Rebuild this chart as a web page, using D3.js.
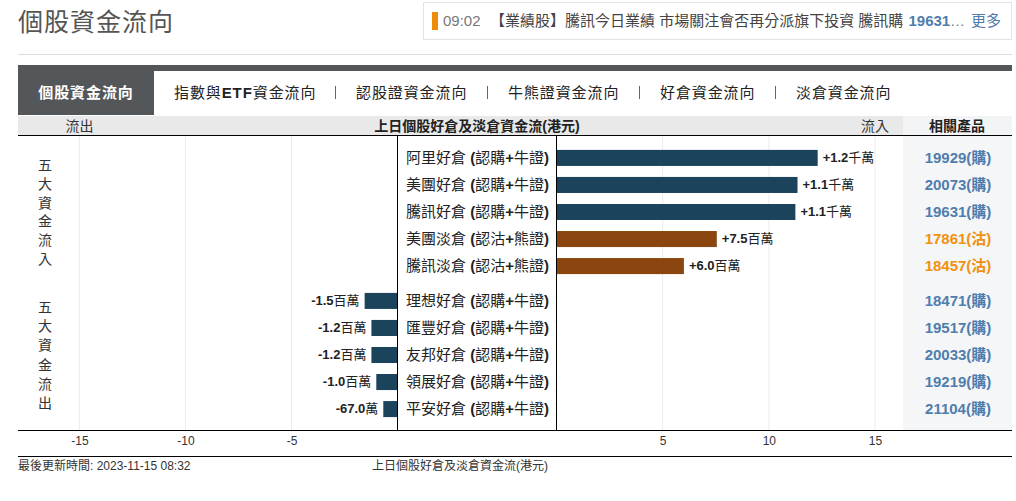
<!DOCTYPE html>
<html lang="zh-Hant">
<head>
  <meta charset="UTF-8">
  <title>個股資金流向</title>
  <script src="https://d3js.org/d3.v7.min.js"></script>
  <style>
    html, body { margin: 0; padding: 0; background: #fff; overflow: hidden; }
    svg { display: block; }
    text { font-family: "Liberation Sans", "Noto Sans CJK TC", sans-serif; }
    .grid line { stroke: #ececec; }
    .tick text { fill: #333; font-size: 12px; }
  </style>
</head>
<body>
  <div id="chart"></div>

  <script>
    // values in millions of HKD
    const inNames = ["阿里好倉 (認購+牛證)", "美團好倉 (認購+牛證)", "騰訊好倉 (認購+牛證)", "美團淡倉 (認沽+熊證)", "騰訊淡倉 (認沽+熊證)"];
    const inValues = [12.3, 11.35, 11.25, 7.55, 6.0];
    const inLabels = ["+1.2千萬", "+1.1千萬", "+1.1千萬", "+7.5百萬", "+6.0百萬"];
    const inProducts = ["19929(購)", "20073(購)", "19631(購)", "17861(沽)", "18457(沽)"];
    const inTypes = ["bull", "bull", "bull", "bear", "bear"];

    const outNames = ["理想好倉 (認購+牛證)", "匯豐好倉 (認購+牛證)", "友邦好倉 (認購+牛證)", "領展好倉 (認購+牛證)", "平安好倉 (認購+牛證)"];
    const outValues = [-1.55, -1.23, -1.23, -1.0, -0.67];
    const outLabels = ["-1.5百萬", "-1.2百萬", "-1.2百萬", "-1.0百萬", "-67.0萬"];
    const outProducts = ["18471(購)", "19517(購)", "20033(購)", "19219(購)", "21104(購)"];
    const outTypes = ["bull", "bull", "bull", "bull", "bull"];

    const tabs = ["指數與ETF資金流向", "認股證資金流向", "牛熊證資金流向", "好倉資金流向", "淡倉資金流向"];
    const tabX = [174, 356, 508, 660, 796];
    const leftTicks = [-15, -10, -5];
    const rightTicks = [5, 10, 15];

    const colors = {bull: "#1c435c", bear: "#8a460e"};
    const productColors = {bull: "#4f7dac", bear: "#f0920f"};

    const width = 1016, height = 501;
    const chartTop = 135, chartBottom = 430, chartLeft = 18, chartRight = 1012, sideX = 903;

    const svg = d3.select("#chart").append("svg")
      .attr("width", width)
      .attr("height", height);

    const xLeft = d3.scaleLinear().domain([-15, 0]).range([79.4, 397.5]);
    const xRight = d3.scaleLinear().domain([0, 15]).range([556.5, 875]);
    const yIn = d3.scaleBand().domain(inNames).range([144.5, 279.5]).paddingInner(0.407).paddingOuter(0.2);
    const yOut = d3.scaleBand().domain(outNames).range([287.5, 422.5]).paddingInner(0.407).paddingOuter(0.2);

    // latin runs come out bold, CJK stays regular, like the original page
    function mixed(sel, str, boldAll) {
      str.split(/([\x00-\x7f]+)/).filter(s => s).forEach(s => {
        sel.append("tspan")
          .attr("font-weight", boldAll || /^[\x00-\x7f]/.test(s) ? "bold" : "normal")
          .text(s);
      });
      return sel;
    }

    function label(x, y, size, fill, anchor) {
      return svg.append("text")
        .attr("x", x).attr("y", y)
        .attr("font-size", size)
        .attr("fill", fill)
        .attr("text-anchor", anchor || "start")
        .attr("dominant-baseline", "central");
    }

    // page header
    label(18, 22, 25, "#555").attr("letter-spacing", "1px").text("個股資金流向");
    svg.append("line").attr("x1", 18).attr("x2", 1012).attr("y1", 54.5).attr("y2", 54.5).attr("stroke", "#ddd");

    // news box
    svg.append("rect").attr("x", 423.5).attr("y", 2.5).attr("width", 588).attr("height", 37)
      .attr("fill", "#fff").attr("stroke", "#e3e3e3");
    svg.append("rect").attr("x", 432).attr("y", 12).attr("width", 6).attr("height", 18).attr("fill", "#ee8c0a");
    label(443, 20.5, 15, "#777").text("09:02");
    label(490, 20.5, 15, "#444").text("【業績股】騰訊今日業績 市場關注會否再分派旗下投資 騰訊購");
    label(908.5, 20.5, 15, "#4f7dac").attr("font-weight", "bold").text("19631");
    label(950, 20.5, 15, "#777").text("…");
    label(971, 20.5, 15, "#4f7dac").text("更多");

    // tabs
    svg.append("rect").attr("x", chartLeft).attr("y", 65).attr("width", chartRight - chartLeft).attr("height", 6).attr("fill", "#54575a");
    svg.append("rect").attr("x", chartLeft).attr("y", 65).attr("width", 136).attr("height", 50).attr("fill", "#54575a");
    label(86, 92, 15, "#fff", "middle").attr("font-weight", "bold").attr("letter-spacing", "0.9px").text("個股資金流向");
    tabs.forEach((t, i) => {
      mixed(label(tabX[i], 92, 15, "#222"), t).attr("letter-spacing", "0.9px");
      if (i < tabs.length - 1) {
        svg.append("line").attr("x1", tabX[i + 1] - 20.5).attr("x2", tabX[i + 1] - 20.5)
          .attr("y1", 86).attr("y2", 99).attr("stroke", "#666");
      }
    });

    // column header band
    svg.append("rect").attr("x", chartLeft).attr("y", 116).attr("width", sideX - chartLeft).attr("height", 19).attr("fill", "#e9e9e9");
    svg.append("rect").attr("x", sideX).attr("y", 116).attr("width", chartRight - sideX).attr("height", 19).attr("fill", "#f3f4f6");
    label(79.5, 125.5, 14, "#333", "middle").text("流出");
    label(477, 126, 14, "#222", "middle").attr("font-weight", "bold").text("上日個股好倉及淡倉資金流(港元)");
    label(875, 125.5, 14, "#333", "middle").text("流入");
    label(957, 126, 14, "#222", "middle").attr("font-weight", "bold").text("相關產品");

    // product column background
    svg.append("rect").attr("x", sideX).attr("y", chartTop).attr("width", chartRight - sideX).attr("height", chartBottom - chartTop).attr("fill", "#f5f6f8");

    // grid
    svg.append("g").attr("class", "grid").selectAll("line")
      .data(leftTicks.map(d => xLeft(d)).concat(rightTicks.map(d => xRight(d))))
      .join("line")
      .attr("x1", d => d).attr("x2", d => d)
      .attr("y1", chartTop).attr("y2", chartBottom);

    // bars, value labels, names and products for one block of rows
    function drawRows(names, values, labels, products, types, y) {
      const rows = names.map((name, i) => ({name, value: values[i], text: labels[i], product: products[i], type: types[i]}));

      svg.append("g").selectAll("rect").data(rows).join("rect")
        .attr("x", d => d.value < 0 ? xLeft(d.value) : xRight(0))
        .attr("y", d => y(d.name))
        .attr("width", d => d.value < 0 ? xLeft(0) - xLeft(d.value) : xRight(d.value) - xRight(0))
        .attr("height", y.bandwidth())
        .attr("fill", d => colors[d.type]);

      rows.forEach(d => {
        const cy = y(d.name) + y.bandwidth() / 2 - 0.7;
        const tx = d.value < 0 ? xLeft(d.value) - 5 : xRight(d.value) + 5;
        mixed(label(tx, cy, 13, "#222", d.value < 0 ? "end" : "start"), d.text);
        mixed(label(549, cy, 15, "#222", "end"), d.name);
        mixed(label(958, cy, 15, productColors[d.type], "middle"), d.product, true);
      });
    }

    drawRows(inNames, inValues, inLabels, inProducts, inTypes, yIn);
    drawRows(outNames, outValues, outLabels, outProducts, outTypes, yOut);

    // vertical group titles
    Array.from("五大資金流入").forEach((c, i) => label(45, 165 + i * 18.8, 14, "#333", "middle").text(c));
    Array.from("五大資金流出").forEach((c, i) => label(45, 307 + i * 19.2, 14, "#333", "middle").text(c));

    // frame lines
    [397.5, 556.5].forEach(x => {
      svg.append("line").attr("x1", x).attr("x2", x).attr("y1", chartTop).attr("y2", chartBottom).attr("stroke", "#000");
    });
    [135.5, 430.5].forEach(y => {
      svg.append("line").attr("x1", chartLeft).attr("x2", chartRight).attr("y1", y).attr("y2", y).attr("stroke", "#000");
    });

    // axes
    [[xLeft, leftTicks], [xRight, rightTicks]].forEach(([scale, ticks]) => {
      const g = svg.append("g")
        .attr("transform", `translate(0,${chartBottom})`)
        .call(d3.axisBottom(scale).tickValues(ticks).tickFormat(d => String(d)).tickSize(0).tickPadding(6));
      g.select(".domain").remove();
    });

    // footer
    svg.append("line").attr("x1", chartLeft).attr("x2", chartRight).attr("y1", 456.5).attr("y2", 456.5).attr("stroke", "#000");
    label(18, 466, 12, "#333").text("最後更新時間: 2023-11-15 08:32");
    label(372, 466, 12, "#333").text("上日個股好倉及淡倉資金流(港元)");
  </script>
</body>
</html>
